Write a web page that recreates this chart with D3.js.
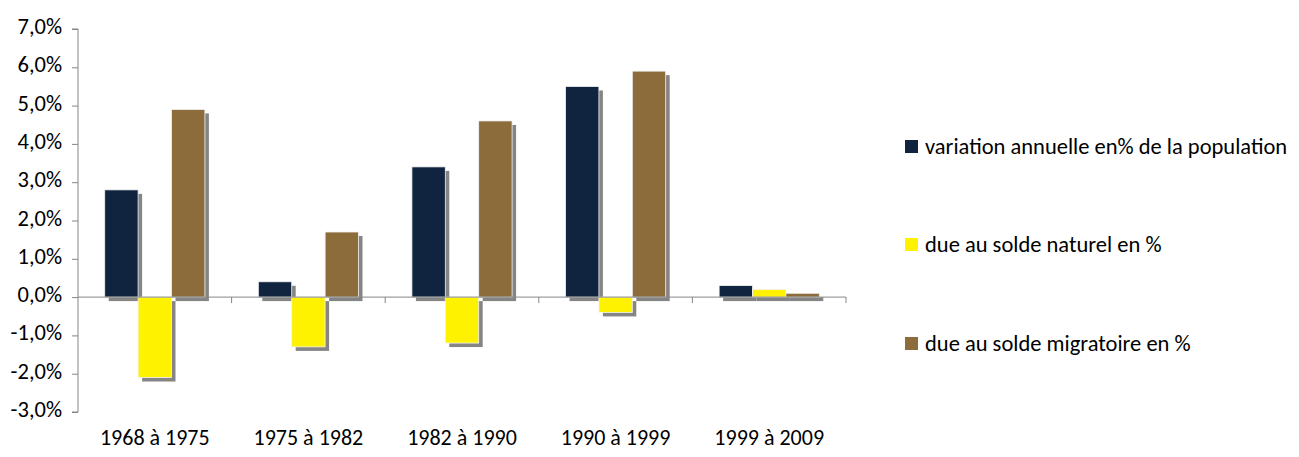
<!DOCTYPE html>
<html>
<head>
<meta charset="utf-8">
<script src="https://cdn.jsdelivr.net/npm/d3@7"></script>
<style>
  html, body { margin: 0; padding: 0; background: #fff; }
  svg text { font-family: Carlito, Calibri, Lato, sans-serif; font-weight: 400; fill: #000; }
</style>
</head>
<body>
<svg id="chart" width="1299" height="457"></svg>
<script>
// Periods (categories)
const periods = ["1968 à 1975", "1975 à 1982", "1982 à 1990", "1990 à 1999", "1999 à 2009"];

// Series values, in %
const variationAnnuelle = [2.8, 0.4, 3.4, 5.5, 0.3];
const soldeNaturel      = [-2.1, -1.3, -1.2, -0.4, 0.2];
const soldeMigratoire   = [4.9, 1.7, 4.6, 5.9, 0.1];

const seriesNames = [
  "variation annuelle en% de la population",
  "due au solde naturel en %",
  "due au solde migratoire en %"
];
const seriesColors = ["#10243f", "#fff200", "#8b6c3a"];

// Y axis ticks
const yTicks = [-3, -2, -1, 0, 1, 2, 3, 4, 5, 6, 7];

const seriesValues = [variationAnnuelle, soldeNaturel, soldeMigratoire];

const svg = d3.select("#chart");
const plot = { left: 78, right: 846, top: 29, bottom: 412 };

const x = d3.scaleBand().domain(periods).range([plot.left, plot.right]).paddingInner(0).paddingOuter(0);
const barW = x.bandwidth() / (seriesNames.length + 1.6);
const groupOffset = (x.bandwidth() - barW * seriesNames.length) / 2;

const y = d3.scaleLinear().domain([-3, 7]).range([plot.bottom, plot.top]);

const fmt = v => d3.format(".1f")(v).replace(".", ",").replace("−", "-") + "%";

// Y axis
const yAxis = d3.axisLeft(y).tickValues(yTicks).tickSize(6).tickPadding(10).tickFormat(fmt);
const gy = svg.append("g").attr("transform", `translate(${plot.left},0)`).call(yAxis);
gy.select(".domain").attr("stroke", "#868686").attr("d", `M-6,${y(7)}H0V${y(-3)}H-6`);
gy.selectAll(".tick line").attr("stroke", "#868686");
gy.selectAll(".tick text").attr("font-size", 22.5).attr("dy", "0.2em");

// Bars data
const bars = [];
periods.forEach((p, i) => {
  seriesValues.forEach((vals, s) => {
    bars.push({ period: p, s, value: vals[i] });
  });
});
const bx = d => x(d.period) + groupOffset + d.s * barW;
const by = d => y(Math.max(0, d.value));
const bh = d => Math.abs(y(d.value) - y(0));

// Shadows
svg.append("g").selectAll("rect").data(bars).join("rect")
  .attr("x", d => bx(d) + 4)
  .attr("y", d => by(d) + 4)
  .attr("width", barW)
  .attr("height", d => bh(d))
  .attr("fill", "#858585");

// Bars
svg.append("g").selectAll("rect").data(bars).join("rect")
  .attr("x", bx)
  .attr("y", by)
  .attr("width", barW)
  .attr("height", bh)
  .attr("fill", d => seriesColors[d.s])
  .attr("stroke", "#f4f4f4")
  .attr("stroke-width", 0.8);

// X axis at zero
const xAxis = d3.axisBottom(x).tickSize(0).tickFormat("");
const gx = svg.append("g").attr("transform", `translate(0,${y(0)})`).call(xAxis);
gx.select(".domain").attr("stroke", "#868686").attr("d", `M${plot.left},0H${plot.right}`);
// category boundary ticks
const boundaries = periods.map(p => x(p) + x.bandwidth());
gx.selectAll(".bound").data(boundaries).join("line")
  .attr("x1", d => d).attr("x2", d => d)
  .attr("y1", 0).attr("y2", 6)
  .attr("stroke", "#868686");

// Category labels at the bottom
svg.append("g").selectAll("text").data(periods).join("text")
  .attr("x", d => x(d) + x.bandwidth() / 2)
  .attr("y", 445)
  .attr("text-anchor", "middle")
  .attr("font-size", 22)
  .text(d => d);

// Legend
const legendBaselines = [154, 252, 351];
const lg = svg.append("g").selectAll("g").data(seriesNames).join("g")
  .attr("transform", (d, i) => `translate(905,${legendBaselines[i]})`);
lg.append("rect").attr("x", 0).attr("y", -14).attr("width", 13).attr("height", 13)
  .attr("fill", (d, i) => seriesColors[i]);
lg.append("text").attr("x", 20).attr("y", 0).attr("font-size", 22.5).text(d => d);
</script>
</body>
</html>
